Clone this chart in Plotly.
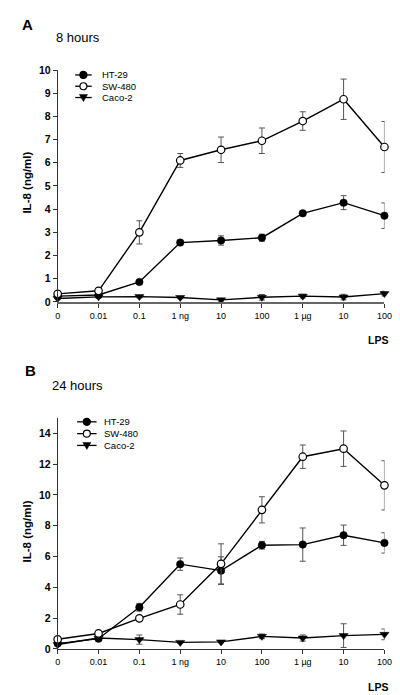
import plotly.graph_objects as go

W, H = 400, 695

doses = ["0", "0.01", "0.1", "1 ng", "10", "100", "1 µg", "10", "100"]
xpos = list(range(len(doses)))

series_names = ["HT-29", "SW-480", "Caco-2"]

# Panel A: 8 hours
a_ht29 = [0.25, 0.30, 0.86, 2.56, 2.65, 2.77, 3.82, 4.28, 3.72]
a_ht29_err = [0.03, 0.03, 0.06, 0.10, 0.20, 0.15, 0.10, 0.30, 0.55]
a_sw480 = [0.35, 0.48, 3.00, 6.10, 6.56, 6.95, 7.80, 8.74, 6.68]
a_sw480_err = [0.05, 0.05, 0.50, 0.30, 0.55, 0.55, 0.40, 0.87, 1.10]
a_caco2 = [0.15, 0.22, 0.23, 0.19, 0.09, 0.20, 0.25, 0.21, 0.36]
a_caco2_err = [0.05, 0.05, 0.05, 0.05, 0.05, 0.12, 0.08, 0.12, 0.10]

# Panel B: 24 hours
b_ht29 = [0.34, 0.66, 2.70, 5.50, 5.08, 6.73, 6.77, 7.38, 6.88]
b_ht29_err = [0.05, 0.10, 0.25, 0.40, 0.90, 0.25, 1.08, 0.66, 0.66]
b_sw480 = [0.62, 1.00, 1.98, 2.88, 5.52, 9.03, 12.48, 13.00, 10.62]
b_sw480_err = [0.05, 0.20, 0.10, 0.63, 1.30, 0.85, 0.76, 1.15, 1.60]
b_caco2 = [0.28, 0.70, 0.60, 0.42, 0.45, 0.81, 0.70, 0.86, 0.94]
b_caco2_err = [0.05, 0.10, 0.30, 0.05, 0.05, 0.15, 0.20, 0.77, 0.35]

styles = {
    "HT-29": dict(symbol="circle", color="black", size=7.5),
    "SW-480": dict(symbol="circle-open", color="black", size=7.5),
    "Caco-2": dict(symbol="triangle-down", color="black", size=8),
}

FONT = "Arial, Liberation Sans, sans-serif"
ERRC = "#555555"

fig = go.Figure()


def add_series(name, y, err, xa, ya):
    st = styles[name]
    if st["symbol"] == "circle-open":
        marker = dict(symbol="circle", size=st["size"], color="white",
                      line=dict(color="black", width=1.2))
    else:
        marker = dict(symbol=st["symbol"], size=st["size"], color="black",
                      line=dict(color="black", width=0.5))
    fig.add_trace(go.Scatter(
        x=xpos, y=y, mode="lines+markers", name=name,
        line=dict(color="black", width=1.4),
        marker=marker,
        error_y=dict(type="data", array=err, visible=True, color=ERRC,
                     thickness=1, width=3),
        xaxis=xa, yaxis=ya, showlegend=False, cliponaxis=False,
    ))


for nm, y, e in [("Caco-2", a_caco2, a_caco2_err), ("HT-29", a_ht29, a_ht29_err),
                 ("SW-480", a_sw480, a_sw480_err)]:
    add_series(nm, y, e, "x", "y")
for nm, y, e in [("Caco-2", b_caco2, b_caco2_err), ("HT-29", b_ht29, b_ht29_err),
                 ("SW-480", b_sw480, b_sw480_err)]:
    add_series(nm, y, e, "x2", "y2")


def px(x):
    return x / W


def py(y):
    return 1 - y / H


AXC = "#333333"
xcommon = dict(range=[0, 8], tickvals=xpos, ticktext=doses, showgrid=False,
               zeroline=False, showline=True, linewidth=1,
               ticks="outside", ticklen=4, tickcolor=AXC,
               tickfont=dict(family=FONT, size=9, color="black"),
               domain=[px(48), px(384)], fixedrange=True)
ycommon = dict(showgrid=False, zeroline=False, showline=True, linecolor=AXC,
               linewidth=1, ticks="outside", ticklen=4, tickcolor=AXC,
               tickfont=dict(family=FONT, size=10.5, color="black", weight="bold"),
               fixedrange=True)

fig.update_layout(
    width=W, height=H,
    margin=dict(l=0, r=0, t=0, b=0),
    paper_bgcolor="white", plot_bgcolor="white",
    showlegend=False,
    xaxis=dict(**xcommon, anchor="y", linecolor="#666666"),
    yaxis=dict(**ycommon, range=[0, 10], tickvals=list(range(0, 11)),
               domain=[py(293), py(57)], anchor="x"),
    xaxis2=dict(**xcommon, anchor="y2", linecolor=AXC),
    yaxis2=dict(**ycommon, range=[0, 15], tickvals=list(range(0, 15, 2)),
                domain=[py(646), py(411)], anchor="x2"),
)
fig.update_xaxes(linewidth=1.6, selector=dict(anchor="y"))

annotations = []
shapes = []


def text(x, y, s, size, bold=False, xanchor="center", angle=0):
    annotations.append(dict(
        x=px(x), y=py(y), xref="paper", yref="paper", text=s, showarrow=False,
        xanchor=xanchor, yanchor="middle", textangle=angle,
        font=dict(family=FONT, size=size, color="black",
                  weight="bold" if bold else "normal")))


# Panel labels and titles
text(17, 11, "A", 15, bold=True)
text(44, 24, "8 hours", 13, xanchor="left")
text(20, 363, "B", 15, bold=True)
text(40, 378, "24 hours", 13, xanchor="left")
# y titles
text(16, 172, "IL-8 (ng/ml)", 11.5, bold=True, angle=-90)
text(16, 527, "IL-8 (ng/ml)", 11.5, bold=True, angle=-90)
# x titles
text(377, 332, "LPS", 10.5, bold=True)
text(377, 685, "LPS", 10.5, bold=True)


def legend(x0, x1, xt, rows):
    xc = (x0 + x1) / 2
    for name, yy in zip(series_names, rows):
        shapes.append(dict(type="line", xref="paper", yref="paper",
                           x0=px(x0), x1=px(x1), y0=py(yy), y1=py(yy),
                           line=dict(color="black", width=1.3)))
        sym = styles[name]["symbol"]
        if sym == "triangle-down":
            shapes.append(dict(type="path", xref="paper", yref="paper",
                               xsizemode="pixel", ysizemode="pixel",
                               xanchor=px(xc), yanchor=py(yy),
                               path="M-4,3 L4,3 L0,-4 Z",
                               fillcolor="black", line=dict(color="black", width=0.5)))
        else:
            shapes.append(dict(type="circle", xref="paper", yref="paper",
                               xsizemode="pixel", ysizemode="pixel",
                               xanchor=px(xc), yanchor=py(yy),
                               x0=-3.5, x1=3.5, y0=-3.5, y1=3.5,
                               fillcolor="black" if sym == "circle" else "white",
                               line=dict(color="black", width=1.2)))
        text(xt, yy, name, 9.5, xanchor="left")


legend(66, 83, 92, [62, 73.5, 85])
legend(68, 88, 94, [415, 427, 439])

fig.update_layout(annotations=annotations, shapes=shapes)
fig.write_html("out.html")
